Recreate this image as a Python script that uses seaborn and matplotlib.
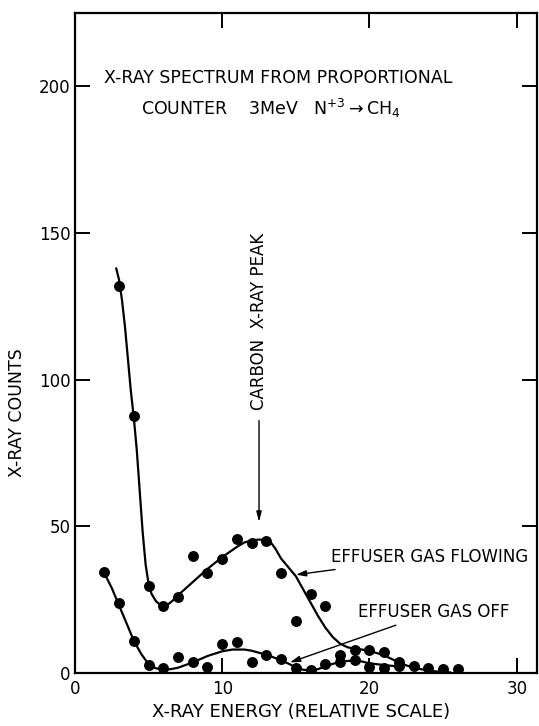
import numpy as np
import pandas as pd
import matplotlib
matplotlib.use("Agg")
import matplotlib.pyplot as plt
import seaborn as sns

flow_x = [3, 4, 5, 6, 7, 8, 9, 10, 11, 12, 13, 14, 15, 16, 17, 18, 19, 20, 21, 22, 23, 24, 25, 26]
flow_y = [132, 87.5, 29.6, 22.8, 26, 40, 34, 39, 45.6, 44.2, 44.9, 34, 17.8, 26.8, 22.8,
          6, 7.7, 8, 7, 3.8, 2.3, 1.8, 1.3, 1.5]

off_x = [2, 3, 4, 5, 6, 7, 8, 9, 10, 11, 12, 13, 14, 15, 16, 17, 18, 19, 20, 21, 22]
off_y = [34.5, 23.7, 10.9, 2.6, 1.8, 5.5, 3.9, 2, 9.8, 10.4, 3.8, 6, 4.7, 1.8, 0.9, 3,
         3.8, 4.3, 2, 1.8, 2.5]

# hand-drawn fit curves
flow_cx = [2.8, 3.0, 3.2, 3.4, 3.6, 3.8, 4.0, 4.2, 4.4, 4.6, 4.8, 5.0, 5.2, 5.5, 5.8, 6.0,
           6.3, 6.6, 7, 8, 9, 10, 11, 11.5, 12, 12.5, 13, 13.3, 13.6, 14, 14.5, 15, 15.5,
           16, 16.5, 17, 17.5, 18, 18.5, 19, 19.5, 20, 20.5, 21, 21.5, 22, 22.5, 23, 24,
           25, 25.5]
flow_cy = [138, 134, 127, 118, 107, 96, 87, 76, 62, 48, 37, 30.5, 27, 24.5, 23.2, 23,
           23.3, 24.5, 26.5, 31, 35.5, 39.5, 43, 44.5, 45.2, 45.5, 45.3, 44.5, 42.5, 39,
           36, 33, 28.5, 24, 19.5, 15.5, 12.3, 10, 8.8, 8.2, 8, 7.5, 6.8, 6, 4.8, 3.6,
           2.6, 1.8, 0.8, 0.3, 0.2]

off_cx = [2, 2.5, 3, 3.5, 4, 4.5, 5, 5.5, 6, 6.5, 7, 8, 9, 10, 10.7, 11.5, 12, 13, 13.5, 14,
          14.5, 15, 15.5, 16, 16.5, 17, 17.5, 18, 18.5, 19, 19.5, 20, 21, 22]
off_cy = [34, 29, 23, 17, 11, 6.5, 3, 1.6, 1.2, 1.3, 1.8, 3.6, 5.8, 7.4, 8, 8, 7.6, 6.2, 5.3,
          4.3, 3.2, 1.9, 1.1, 0.9, 1.3, 2.3, 3.1, 3.8, 4.1, 4.2, 3.9, 3.3, 2.7, 2.2]

x_ticks = [0, 10, 20, 30]
y_ticks = [0, 50, 100, 150, 200]

sns.set_style("ticks")
plt.rcParams["font.family"] = ["DejaVu Sans"]
plt.rcParams["text.color"] = "black"
plt.rcParams["axes.labelcolor"] = "black"

fig = plt.figure(figsize=(5.39, 7.26), dpi=100)
ax = fig.add_axes([0.139, 0.073, 0.858, 0.909])

pts = pd.concat([
    pd.DataFrame({"x": flow_x, "y": flow_y, "s": "flowing"}),
    pd.DataFrame({"x": off_x, "y": off_y, "s": "off"}),
])
sns.scatterplot(data=pts, x="x", y="y", color="black", s=62, linewidth=0,
                legend=False, ax=ax, zorder=3)
sns.lineplot(x=flow_cx, y=flow_cy, color="black", lw=1.6, sort=False, ax=ax)
sns.lineplot(x=off_cx, y=off_cy, color="black", lw=1.6, sort=False, ax=ax)

ax.set_xlim(0, 31.4)
ax.set_ylim(0, 225)
ax.set_xticks(x_ticks)
ax.set_yticks(y_ticks)
ax.set_xticklabels([str(t) for t in x_ticks])
ax.set_yticklabels([str(t) for t in y_ticks])
ax.tick_params(direction="in", length=11, width=1.4, labelsize=12,
               top=True, right=True, colors="black")
ax.tick_params(axis="x", pad=5)
ax.tick_params(axis="y", pad=3)
for sp in ax.spines.values():
    sp.set_linewidth(1.6)
    sp.set_color("black")
    sp.set_visible(True)

ax.set_xlabel("X-RAY ENERGY (RELATIVE SCALE)", fontsize=13, va="center")
ax.xaxis.set_label_coords(0.49, -0.059)
ax.set_ylabel("")
ax.text(-0.125, 0.395, "X-RAY COUNTS", transform=ax.transAxes, rotation=90,
        fontsize=12.5, ha="center", va="center")

ax.text(2.0, 203, "X-RAY SPECTRUM FROM PROPORTIONAL", fontsize=12.5, va="center")
ax.text(4.5, 192.5, r"COUNTER    3MeV   N$^{+3}$$\rightarrow$CH$_4$", fontsize=12.5, va="center")

ax.text(12.5, 150, "CARBON  X-RAY PEAK", rotation=90, fontsize=12,
        ha="center", va="top")
ax.annotate("", xy=(12.5, 50.5), xytext=(12.5, 87),
            arrowprops=dict(arrowstyle="-|>,head_length=0.6,head_width=0.15",
                            color="black", lw=1.0))

ax.annotate("EFFUSER GAS FLOWING", xy=(15.0, 33.5), xytext=(17.4, 39.6),
            fontsize=12, va="center", ha="left",
            arrowprops=dict(arrowstyle="-|>,head_length=0.5,head_width=0.15",
                            color="black", lw=1.0, shrinkA=2, shrinkB=0))
ax.annotate("EFFUSER GAS OFF", xy=(14.6, 3.6), xytext=(19.2, 20.8),
            fontsize=12, va="center", ha="left",
            arrowprops=dict(arrowstyle="-|>,head_length=0.5,head_width=0.15",
                            color="black", lw=1.0, shrinkA=2, shrinkB=0))

fig.savefig("out.png", dpi=100)
